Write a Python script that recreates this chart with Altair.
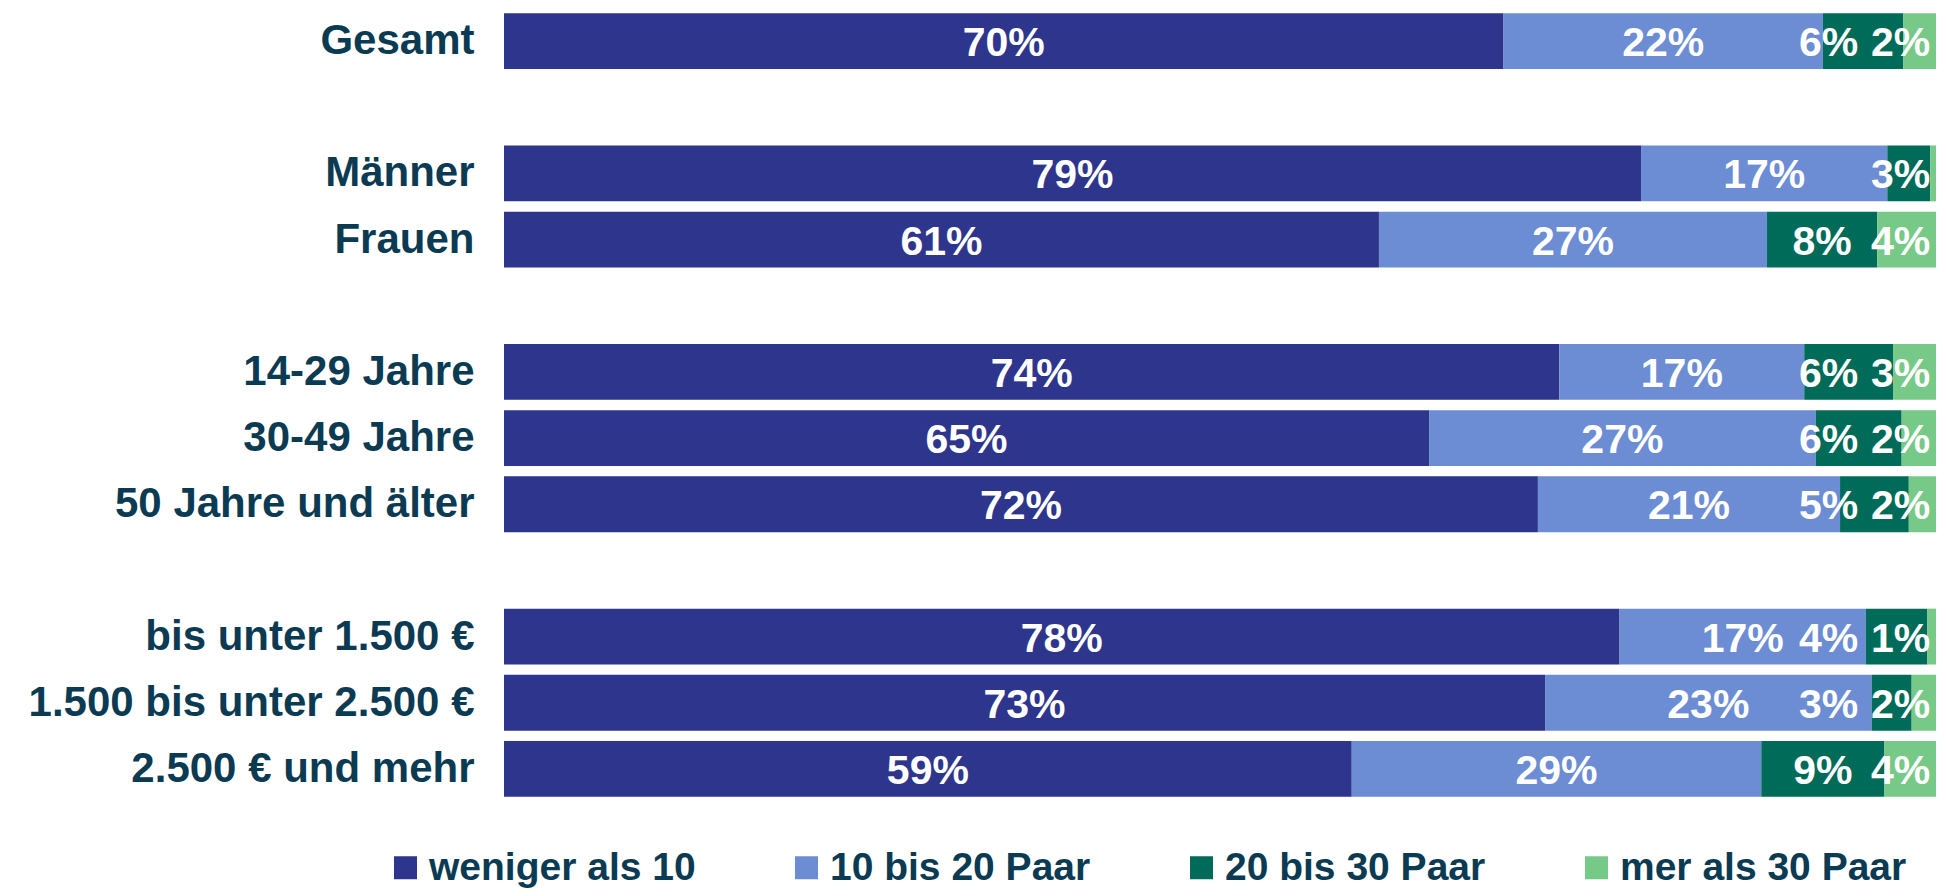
import altair as alt
import pandas as pd

# ---------------- data ----------------
categories = ["Gesamt", "Männer", "Frauen", "14-29 Jahre", "30-49 Jahre",
              "50 Jahre und älter", "bis unter 1.500 €",
              "1.500 bis unter 2.500 €", "2.500 € und mehr"]
series_names = ["weniger als 10", "10 bis 20 Paar", "20 bis 30 Paar", "mer als 30 Paar"]
weniger = [69.8, 79.4, 61.1, 73.7, 64.6, 72.2, 77.9, 72.7, 59.2]
b10_20 = [22.3, 17.2, 27.1, 17.1, 27.0, 21.1, 17.2, 22.8, 28.6]
b20_30 = [5.6, 3.0, 7.7, 6.2, 6.0, 4.8, 4.3, 2.8, 8.6]
mehr30 = [2.3, 0.4, 4.1, 3.0, 2.4, 1.9, 0.6, 1.7, 3.6]

# row order incl. blank separator rows
row_order = ["Gesamt", " ", "Männer", "Frauen", "  ", "14-29 Jahre", "30-49 Jahre",
             "50 Jahre und älter", "   ", "bis unter 1.500 €",
             "1.500 bis unter 2.500 €", "2.500 € und mehr"]

colors = ["#2E358C", "#6C8DD4", "#006B58", "#77C988"]
TXT = "#0B3A53"
FONT = "Liberation Sans"
PLOT_W = 1432
PLOT_H = 794
VAL_FS = 41

# ---------------- tables ----------------
px_per_unit = PLOT_W / 100.0
bars = []
labels = []
for i, cat in enumerate(categories):
    vals = [weniger[i], b10_20[i], b20_30[i], mehr30[i]]
    starts = []
    s = 0.0
    for v in vals:
        starts.append(s)
        s += v
    for j, v in enumerate(vals):
        bars.append({"row": cat, "series": series_names[j], "sidx": j, "value": v})
    # label layout: centred in segment, pushed left to stay inside the bar end / avoid overlap
    right = 99.6
    gap = 0.9
    for j in range(3, -1, -1):
        r = round(vals[j])
        if r == 0:
            continue
        txt = f"{r}%"
        hw = (len(str(r)) * 0.556 + 0.889) * VAL_FS / 2 / px_per_unit
        c = starts[j] + vals[j] / 2
        pos = min(c, right - hw)
        right = pos - hw - gap
        labels.append({"row": cat, "lx": pos, "txt": txt})

df_bars = pd.DataFrame(bars)
df_labels = pd.DataFrame(labels)

yenc = alt.Y("row:N",
             scale=alt.Scale(domain=row_order, paddingInner=0.155, paddingOuter=0.0775),
             axis=alt.Axis(title=None, domain=False, ticks=False, grid=False,
                           labelFont=FONT, labelFontWeight="bold", labelFontSize=42,
                           labelColor=TXT, labelPadding=30, labelLimit=700))

bar_layer = alt.Chart(df_bars).mark_bar().encode(
    y=yenc,
    x=alt.X("value:Q", stack="zero", scale=alt.Scale(domain=[0, 100], nice=False), axis=None),
    color=alt.Color("series:N",
                    scale=alt.Scale(domain=series_names, range=colors),
                    legend=alt.Legend(title=None, orient="none", legendX=-118, legendY=840,
                                      direction="horizontal", columns=4, columnPadding=91,
                                      symbolType="square", symbolSize=529, symbolStrokeWidth=0,
                                      symbolOpacity=1, labelFont=FONT, labelFontWeight="bold",
                                      labelFontSize=39, labelColor=TXT, labelLimit=700,
                                      labelOffset=4)),
    order=alt.Order("sidx:Q", sort="ascending"),
)

text_layer = alt.Chart(df_labels).mark_text(
    font=FONT, fontWeight="bold", fontSize=VAL_FS, color="white",
    align="center", baseline="middle", dy=3
).encode(
    y=alt.Y("row:N", scale=alt.Scale(domain=row_order)),
    x=alt.X("lx:Q"),
    text="txt:N",
)

chart = alt.layer(bar_layer, text_layer).properties(
    width=PLOT_W, height=PLOT_H,
    padding={"left": 496, "top": 0, "right": 2, "bottom": 86},
    autosize=alt.AutoSizeParams(type="none"),
).configure_view(stroke=None)

chart.save("out.html", embed_options={"renderer": "svg", "actions": False})
